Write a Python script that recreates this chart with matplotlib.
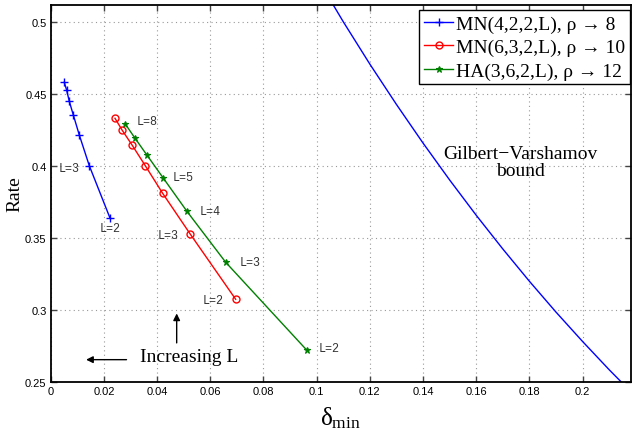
import matplotlib
matplotlib.use("Agg")
import matplotlib.pyplot as plt

# ---- data ----
mn422_delta = [0.00511, 0.00601, 0.00699, 0.00850, 0.01075, 0.01451, 0.02229]
mn422_rate = [0.4580, 0.4524, 0.4448, 0.4353, 0.4214, 0.4001, 0.3638]

mn632_delta = [0.02417, 0.02692, 0.03068, 0.03556, 0.04211, 0.05237, 0.06955]
mn632_rate = [0.4330, 0.4246, 0.4142, 0.4001, 0.3809, 0.3529, 0.3074]

ha362_delta = [0.02805, 0.03158, 0.03609, 0.04233, 0.05124, 0.06579, 0.09624]
ha362_rate = [0.4290, 0.4195, 0.4077, 0.3915, 0.3684, 0.3331, 0.2722]

gv_delta = [0.100, 0.110, 0.120, 0.130, 0.140, 0.150, 0.160, 0.170, 0.180,
            0.190, 0.200, 0.210, 0.220]
gv_rate = [0.531, 0.500, 0.4706, 0.4426, 0.4158, 0.3902, 0.3657, 0.3423,
           0.3199, 0.2985, 0.2781, 0.2585, 0.2398]

legend_labels = ["MN(4,2,2,L), ρ → 8", "MN(6,3,2,L), ρ → 10", "HA(3,6,2,L), ρ → 12"]

point_labels = [  # (text, x, y)
    ("L=3", 0.00312, 0.3983), ("L=2", 0.01853, 0.3566),
    ("L=8", 0.03233, 0.4309), ("L=5", 0.04586, 0.3920),
    ("L=4", 0.05613, 0.3689), ("L=3", 0.07117, 0.3335),
    ("L=2", 0.1006, 0.2736), ("L=3", 0.04023, 0.3520),
    ("L=2", 0.0570, 0.3071),
]

xticks = [0, 0.02, 0.04, 0.06, 0.08, 0.1, 0.12, 0.14, 0.16, 0.18, 0.2]
xticklabels = ["0", "0.02", "0.04", "0.06", "0.08", "0.1", "0.12", "0.14", "0.16", "0.18", "0.2"]
yticks = [0.25, 0.3, 0.35, 0.4, 0.45, 0.5]
yticklabels = ["0.25", "0.3", "0.35", "0.4", "0.45", "0.5"]

plt.rcParams['mathtext.fontset'] = 'custom'
plt.rcParams['mathtext.rm'] = 'Liberation Serif'
plt.rcParams['mathtext.it'] = 'Liberation Serif'

serif = ['Liberation Serif', 'DejaVu Serif']
sans = ['Liberation Sans', 'DejaVu Sans']

fig = plt.figure(figsize=(6.34, 4.31), dpi=100)
ax = fig.add_axes([50.7/634, 48/431, (631-50.7)/634, 377/431])

ax.plot(mn422_delta, mn422_rate, color='#0000ff', lw=1.0, marker='+', ms=6, mew=1.0,
        label=legend_labels[0])
ax.plot(mn632_delta, mn632_rate, color='#ff0000', lw=1.0, marker='o', ms=5, mfc='none',
        mew=1.0, label=legend_labels[1])
ax.plot(ha362_delta, ha362_rate, color='#008000', lw=1.0, marker='*', ms=4.5, mew=0.8,
        label=legend_labels[2])
ax.plot(gv_delta, gv_rate, color='#0000ff', lw=1.0)

for t, x, y in point_labels:
    ax.text(x, y, t, family='Liberation Mono', fontsize=8.5,
            color='#333333', ha='left', va='center')

ax.text(0.1767, 0.4024, "Gilbert−Varshamov\nbound", family=serif, fontsize=14,
        ha='center', va='center', linespacing=1.0)
ax.text(0.0336, 0.268, "Increasing L", family=serif, fontsize=14, ha='left', va='center')
ax.annotate("", xy=(0.01226, 0.2655), xytext=(0.02955, 0.2655),
            arrowprops=dict(arrowstyle='-|>', color='black', lw=1.0, mutation_scale=10))
ax.annotate("", xy=(0.04737, 0.2995), xytext=(0.04737, 0.2752),
            arrowprops=dict(arrowstyle='-|>', color='black', lw=1.0, mutation_scale=10))

ax.set_xlim(0, 0.2182)
ax.set_ylim(0.25, 0.5116)
ax.set_xticks(xticks)
ax.set_xticklabels(xticklabels, family=sans, fontsize=8)
ax.set_yticks(yticks)
ax.set_yticklabels(yticklabels, family=sans, fontsize=8)
ax.tick_params(direction='in', length=4, width=1.0, color='#444444', top=True, right=True, pad=3)
ax.grid(True, linestyle=(0, (1, 3)), color='#999999', linewidth=0.8)
for s in ax.spines.values():
    s.set_linewidth(1.3)
    s.set_color('black')

ax.set_xlabel(r"$\delta_{\mathrm{min}}$", fontsize=18, labelpad=6)
ax.set_ylabel("Rate", family=serif, fontsize=14, labelpad=1)

leg = ax.legend(loc='upper right', bbox_to_anchor=(630/634, 1 - 11/431),
                bbox_transform=fig.transFigure, borderaxespad=0,
                prop={'family': serif, 'size': 14}, fancybox=False, framealpha=1,
                edgecolor='black', handlelength=1.5, handletextpad=0.15,
                labelspacing=0.3, borderpad=0.25)
leg.get_frame().set_linewidth(1.0)

fig.savefig("out.png", dpi=100)
